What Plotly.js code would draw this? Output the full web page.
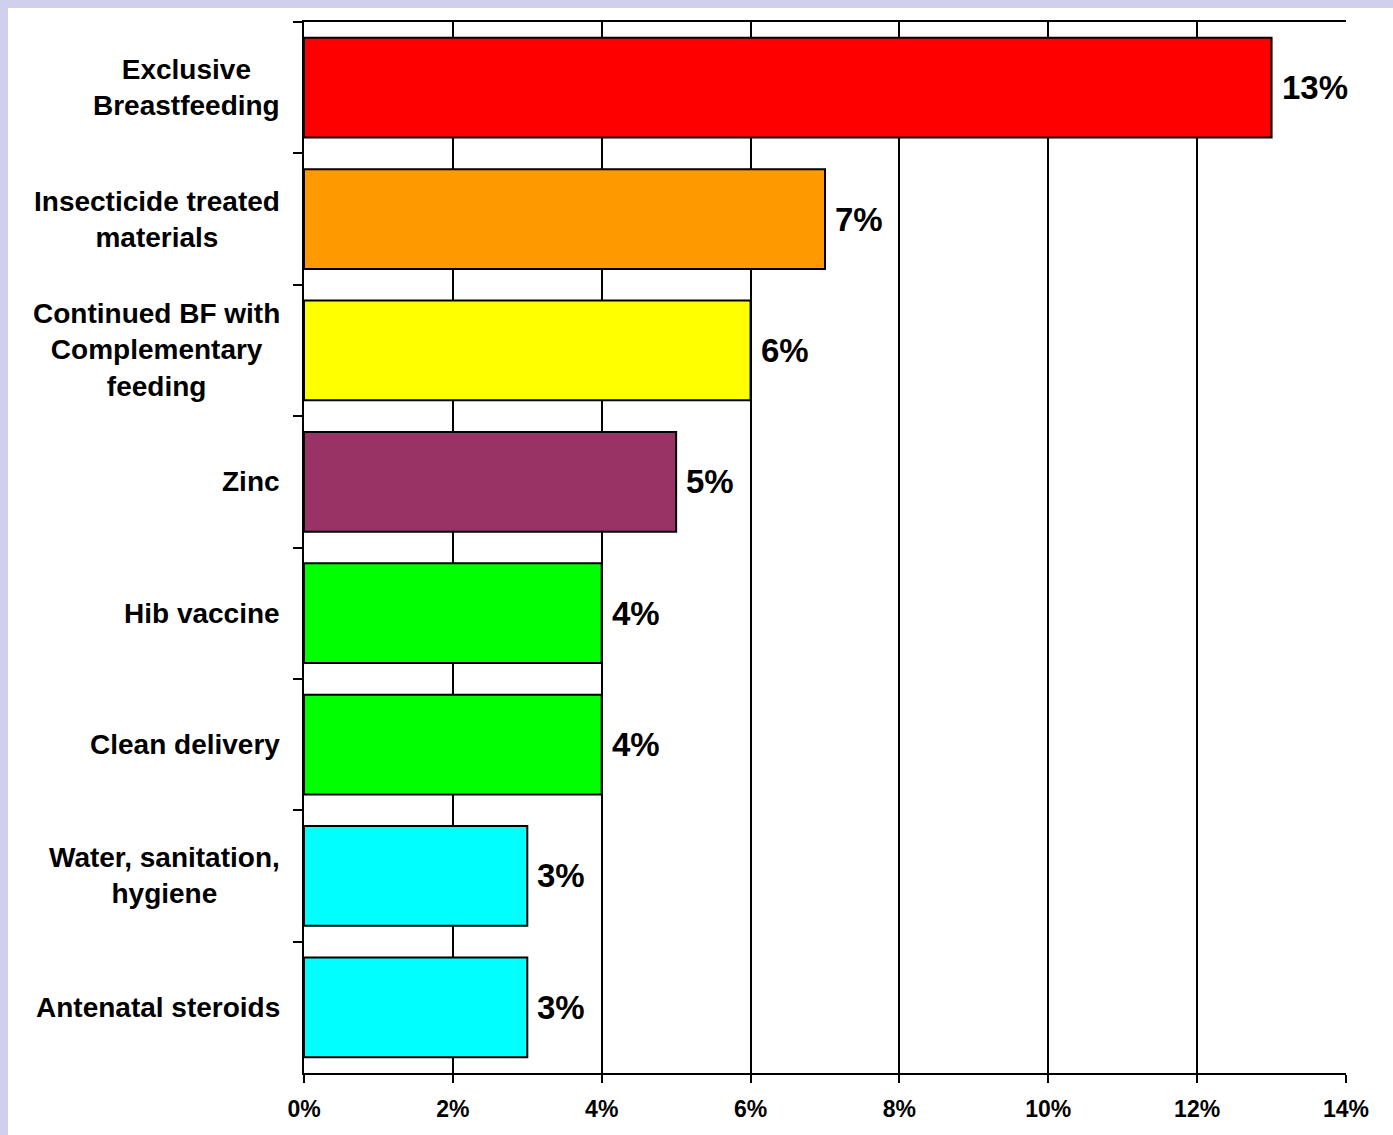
<!DOCTYPE html>
<html>
<head>
<meta charset="utf-8">
<script src="https://cdn.plot.ly/plotly-3.0.1.min.js"></script>
<style>
  html, body { margin: 0; padding: 0; background: #D0D0EE; width: 1393px; height: 1135px; overflow: hidden; }
  #chart { position: absolute; left: 8px; top: 8px; width: 1385px; height: 1127px; background: #ffffff; }
</style>
</head>
<body>
<div id="chart"></div>
<script>
const categories = [
  "Exclusive<br>Breastfeeding",
  "Insecticide treated<br>materials",
  "Continued BF with<br>Complementary<br>feeding",
  "Zinc",
  "Hib vaccine",
  "Clean delivery",
  "Water, sanitation,<br>hygiene",
  "Antenatal steroids"
];
const values = [13, 7, 6, 5, 4, 4, 3, 3];
const barColors = ["#FF0000", "#FF9900", "#FFFF00", "#993366", "#00FF00", "#00FF00", "#00FFFF", "#00FFFF"];
const xTickValues = [0, 2, 4, 6, 8, 10, 12, 14];

const fontFam = '"Liberation Sans", Arial, Helvetica, sans-serif';

const trace = {
  type: "bar",
  orientation: "h",
  y: categories,
  x: values,
  marker: { color: barColors, line: { color: "#000000", width: 2 } },
  hoverinfo: "none"
};

const annotations = [];
categories.forEach((c, i) => {
  annotations.push({
    xref: "paper", yref: "y", x: 0, y: c,
    xanchor: "right", yanchor: "middle", xshift: -22,
    text: c, showarrow: false, align: "center",
    font: { family: fontFam, size: 28, color: "#000000", weight: 700 }
  });
  annotations.push({
    xref: "x", yref: "y", x: values[i], y: c,
    xanchor: "left", yanchor: "middle", xshift: 8,
    text: values[i] + "%", showarrow: false,
    font: { family: fontFam, size: 33, color: "#000000", weight: 700 }
  });
});

const layout = {
  width: 1385, height: 1127,
  paper_bgcolor: "#ffffff", plot_bgcolor: "#ffffff",
  margin: { l: 296, r: 47, t: 14, b: 62 },
  showlegend: false,
  bargap: 0.24,
  xaxis: {
    range: [0, 14],
    tickvals: xTickValues,
    ticktext: xTickValues.map(v => v + "%"),
    showgrid: true, gridcolor: "#000000", gridwidth: 2,
    zeroline: false,
    showline: true, linecolor: "#000000", linewidth: 2, mirror: true,
    ticks: "outside", ticklen: 8, tickwidth: 2, tickcolor: "#000000",
    ticklabelstandoff: 6,
    tickfont: { family: fontFam, size: 23, color: "#000000", weight: 700 },
    fixedrange: true
  },
  yaxis: {
    type: "category",
    autorange: "reversed",
    showticklabels: false,
    tickson: "boundaries",
    ticks: "outside", ticklen: 9, tickwidth: 2, tickcolor: "#000000",
    showgrid: false, zeroline: false,
    showline: true, linecolor: "#000000", linewidth: 2,
    fixedrange: true
  },
  annotations: annotations
};

Plotly.newPlot("chart", [trace], layout, { displayModeBar: false, staticPlot: true });
</script>
</body>
</html>
